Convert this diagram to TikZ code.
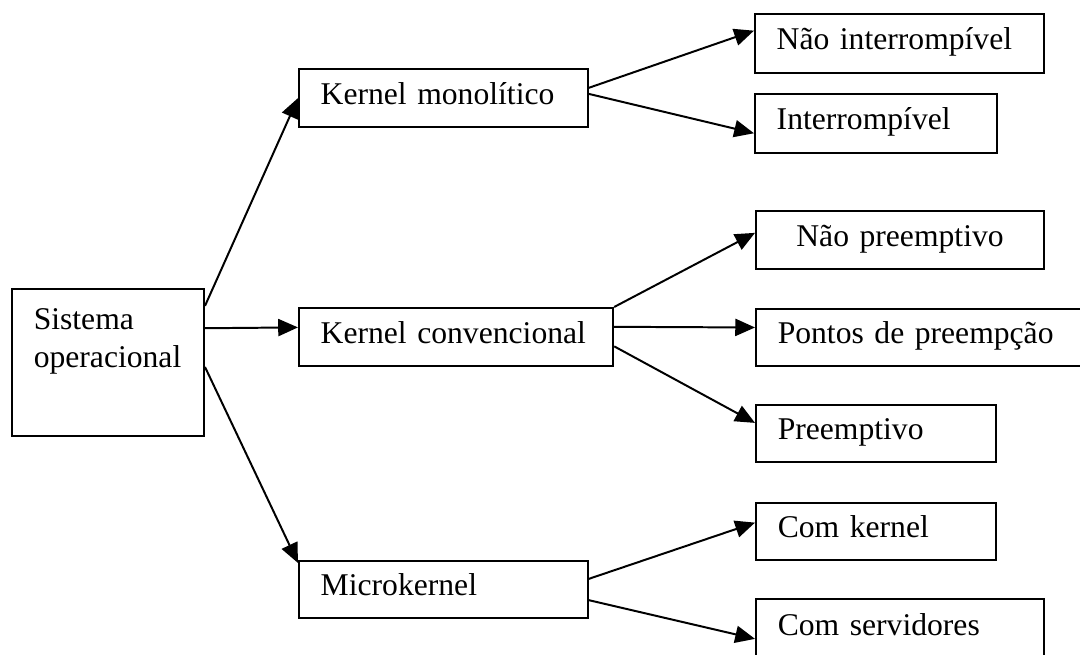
\documentclass[tikz,border=0pt]{standalone}
\usepackage{fontspec}
\setmainfont{Liberation Serif}
\usepackage{tikz}
\usetikzlibrary{arrows.meta}
\usetikzlibrary{calc}

\tikzset{
    moldura/.style={draw, line width=0.75pt, anchor=north west, inner xsep=0.29cm, inner ysep=0pt, font=\fontsize{12pt}{14.5pt}\selectfont},
    caixa/.style={moldura, align=left, minimum height=0.775cm, text height=0.7em, text depth=0.22em},
    seta/.style={-{Triangle[length=7.5pt,width=6.5pt]}, line width=0.75pt},
}

\begin{document}
\begin{tikzpicture}
    \useasboundingbox (0,0) rectangle (14.4,-8.733);

    % Raiz
    \node[moldura, align=left, text width=1.98cm, minimum height=1.96cm] (sistema) at (0.147,-3.84) {Sistema\\operacional\\\strut};

    % Tipos de kernel
    \node[caixa, text width=3.27cm] (kmono) at (3.973,-0.907) {Kernel monolítico};
    \node[caixa, text width=3.61cm] (kconv) at (3.973,-4.093) {Kernel convencional};
    \node[caixa, text width=3.27cm, minimum height=0.76cm] (micro) at (3.973,-7.467) {Microkernel};

    % Subtipos
    \node[caixa, text width=3.27cm, minimum height=0.787cm] (naoint) at (10.053,-0.173) {Não interrompível};
    \node[caixa, text width=2.65cm, minimum height=0.787cm] (interr) at (10.053,-1.24) {Interrompível};
    \node[caixa, text width=3.26cm, align=center] (naopre) at (10.067,-2.8) {Não preemptivo};
    \node[caixa, text width=3.95cm, minimum height=0.76cm] (pontos) at (10.067,-4.107) {Pontos de preempção};
    \node[caixa, text width=2.62cm, minimum height=0.76cm] (preemp) at (10.067,-5.387) {Preemptivo};
    \node[caixa, text width=2.62cm, minimum height=0.76cm] (comker) at (10.067,-6.693) {Com kernel};
    \node[caixa, text width=3.26cm, minimum height=0.8cm] (comserv) at (10.067,-7.973) {Com servidores};

    % Setas (saída no lado direito, chegada no lado esquerdo)
    \foreach \de/\fde/\para/\fpara in {
        sistema/0.12/kmono/0.5, sistema/0.27/kconv/0.34, sistema/0.53/micro/0.05,
        kmono/0.33/naoint/0.29, kmono/0.43/interr/0.66,
        kconv/0/naopre/0.38, kconv/0.33/pontos/0.33, kconv/0.655/preemp/0.32,
        micro/0.32/comker/0.35, micro/0.68/comserv/0.66}
        \draw[seta] ($(\de.north east)!\fde!(\de.south east)$) -- ($(\para.north west)!\fpara!(\para.south west)$);
\end{tikzpicture}
\end{document}
